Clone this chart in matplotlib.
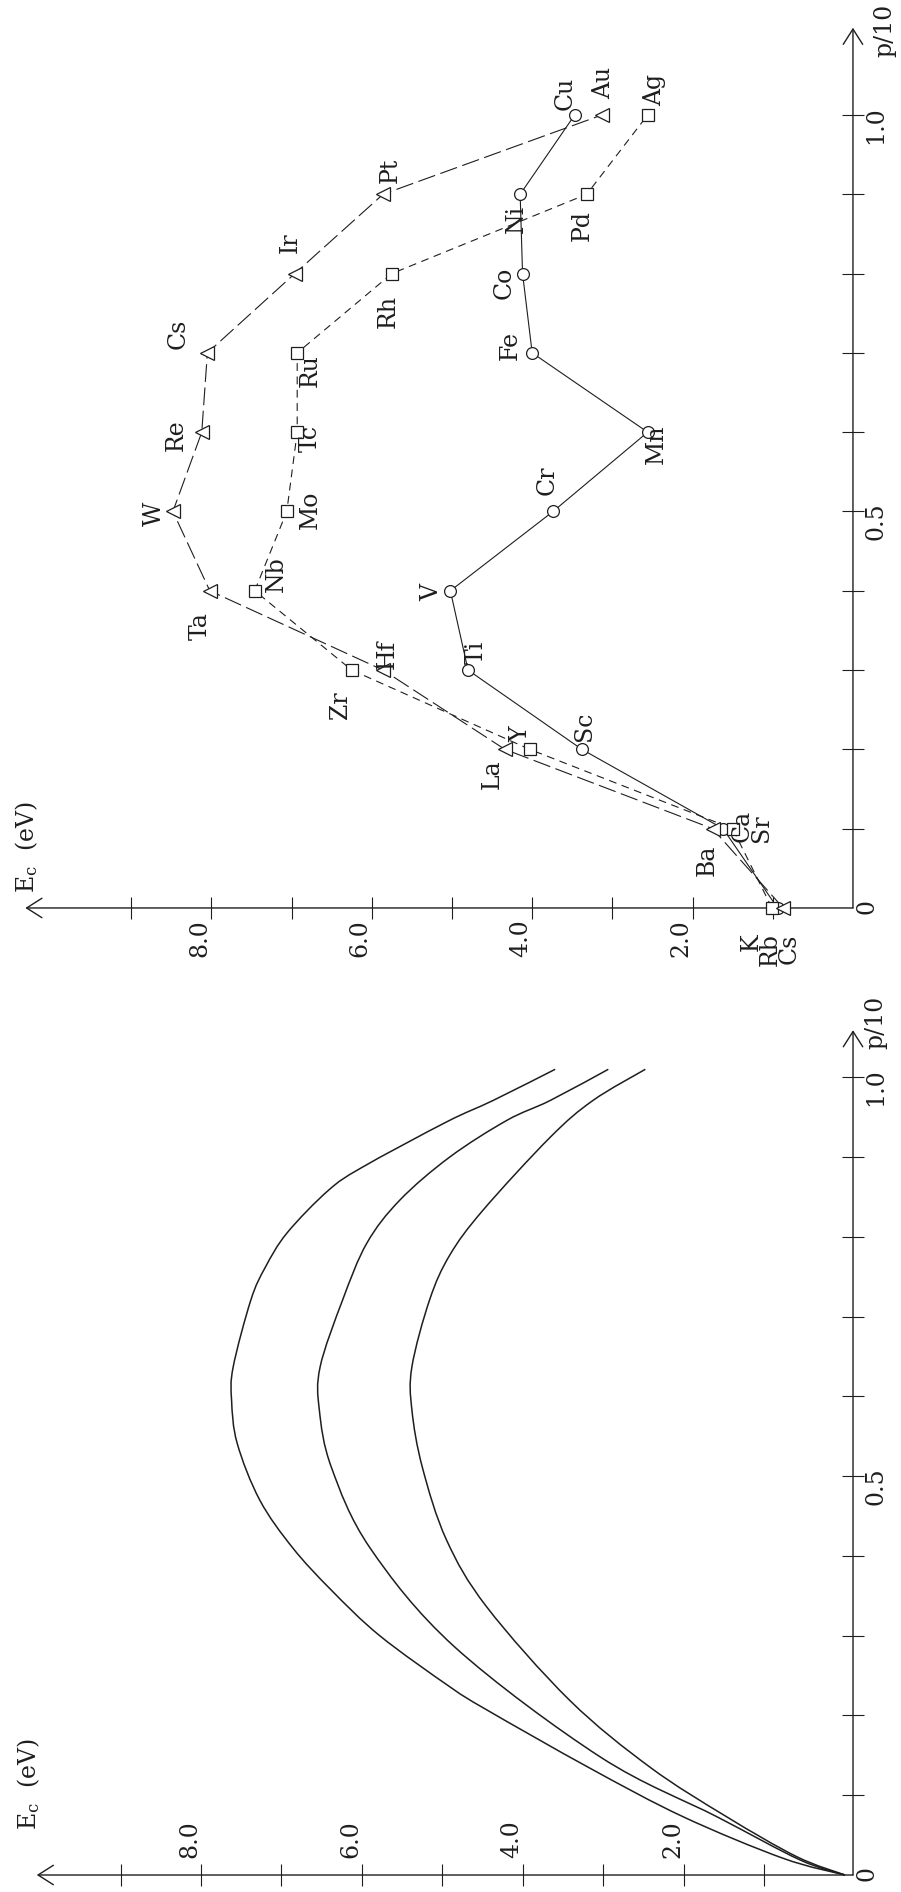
import matplotlib
matplotlib.use("Agg")
import matplotlib.pyplot as plt
from matplotlib.path import Path
from matplotlib.patches import PathPatch
from matplotlib.ticker import FixedLocator, FixedFormatter

plt.rcParams["font.family"] = ["DejaVu Serif", "DejaVu Sans"]
plt.rcParams["mathtext.fontset"] = "custom"
plt.rcParams["mathtext.rm"] = "DejaVu Serif"
plt.rcParams["mathtext.it"] = "DejaVu Serif"

INK = "#1e1e1e"
FS = 17

# ---------------- cohesive energies of the transition series ----------------
p_fill = [0.0, 0.1, 0.2, 0.3, 0.4, 0.5, 0.6, 0.7, 0.8, 0.9, 1.0]

names_3d = ["K", "Ca", "Sc", "Ti", "V", "Cr", "Mn", "Fe", "Co", "Ni", "Cu"]
ec_3d = [0.94, 1.62, 3.38, 4.80, 5.02, 3.74, 2.56, 4.00, 4.12, 4.15, 3.47]

names_4d = ["Rb", "Sr", "Y", "Zr", "Nb", "Mo", "Tc", "Ru", "Rh", "Pd", "Ag"]
ec_4d = [1.01, 1.50, 4.03, 6.25, 7.46, 7.06, 6.93, 6.93, 5.75, 3.32, 2.56]

names_5d = ["Cs", "Ba", "La", "Hf", "Ta", "W", "Re", "Cs", "Ir", "Pt", "Au"]
ec_5d = [0.87, 1.75, 4.34, 5.86, 8.02, 8.48, 8.12, 8.05, 6.96, 5.86, 3.13]

# ---------------- model curves E_c(p) ----------------
p_curve_a = [0.0, 0.023, 0.073, 0.135, 0.219, 0.336, 0.420, 0.511, 0.583, 0.637,
             0.721, 0.777, 0.833, 0.925, 0.971, 1.01]
ec_curve_a = [0.0, 0.60, 1.47, 2.42, 3.42, 4.45, 4.95, 5.25, 5.38, 5.38,
              5.16, 4.91, 4.50, 3.66, 3.13, 2.48]

p_curve_b = [0.0, 0.019, 0.073, 0.148, 0.286, 0.410, 0.511, 0.583, 0.637, 0.721,
             0.792, 0.846, 0.900, 0.946, 0.971, 1.01]
ec_curve_b = [0.0, 0.56, 1.59, 3.04, 4.85, 5.90, 6.38, 6.53, 6.52, 6.24,
              5.94, 5.53, 4.91, 4.20, 3.66, 2.94]

p_curve_c = [0.0, 0.021, 0.073, 0.134, 0.207, 0.236, 0.300, 0.357, 0.410, 0.470,
             0.541, 0.595, 0.637, 0.721, 0.762, 0.805, 0.858, 0.887, 0.944, 0.971, 1.01]
ec_curve_c = [0.0, 0.77, 2.01, 3.17, 4.45, 4.91, 5.78, 6.38, 6.86, 7.27,
              7.55, 7.62, 7.60, 7.38, 7.20, 6.93, 6.42, 6.00, 4.95, 4.37, 3.60]

ec_ticks = [1, 2, 3, 4, 5, 6, 7, 8, 9]
ec_ticklabels = ["", "2.0", "", "4.0", "", "6.0", "", "8.0", ""]
p_ticks = [0.1, 0.2, 0.3, 0.4, 0.5, 0.6, 0.7, 0.8, 0.9, 1.0]
p_ticklabels = ["", "", "", "", "0.5", "", "", "", "", "1.0"]

# label placement next to each marker, in pixels (right, down);
# None marks elements whose names are typed as one stacked block
offs_3d = [None, None, (3, -23), (8, -18), (-19, 2), (-6, -31),
           (9, 12), (-22, -7), (-18, 9), (-4, 25), (-10, -22)]
offs_4d = [None, None, (-9, -15), (-11, 35), (22, -17), (24, -2),
           (13, 6), (13, 18), (-4, 38), (-4, 31), (7, -25)]
offs_5d = [None, (-5, 32), (-13, 25), (4, -16), (-10, 35), (-19, 2),
           (-26, 3), (-29, -19), (-5, -31), (7, -24), (2, -32)]

fig = plt.figure(figsize=(9.01, 18.92), dpi=100)
H = 1892.0
ax_top = fig.add_axes([0, 1 - 950 / H, 1, 950 / H])
ax_bot = fig.add_axes([0, 0, 1, 932 / H])

ax_top.set_xlim(10.636, -0.599)
ax_top.set_ylim(-0.053, 1.145)
ax_bot.set_xlim(10.497, -0.696)
ax_bot.set_ylim(-0.0213, 1.147)


def draw_frame(ax, origin_ec, ec_tip, p_tip, labels_above):
    for s in ax.spines.values():
        s.set_visible(False)
    ax.patch.set_visible(False)
    ax.spines["bottom"].set_position(("data", 0.0))
    ax.spines["top"].set_position(("data", 0.0))
    ax.spines["right"].set_position(("data", origin_ec))
    arrow = dict(arrowstyle="->,head_length=1.1,head_width=0.7", color=INK,
                 lw=1.0, shrinkA=0, shrinkB=0, mutation_scale=10)
    ax.annotate("", xy=(ec_tip, 0), xytext=(origin_ec, 0), arrowprops=arrow)
    ax.annotate("", xy=(origin_ec, p_tip), xytext=(origin_ec, 0), arrowprops=arrow)

    ax.xaxis.set_major_locator(FixedLocator(ec_ticks))
    ax.xaxis.set_major_formatter(FixedFormatter(ec_ticklabels))
    if labels_above:
        ax.xaxis.tick_top()
    else:
        ax.xaxis.tick_bottom()
    ax.tick_params(axis="x", direction="inout", length=16, width=0.8, color=INK,
                   labelsize=FS, labelcolor=INK, labelrotation=90,
                   pad=(4 if labels_above else 0))
    for lab in ax.get_xticklabels():
        lab.set_horizontalalignment("right")

    ax.yaxis.tick_right()
    ax.yaxis.set_major_locator(FixedLocator(p_ticks))
    ax.yaxis.set_major_formatter(FixedFormatter(p_ticklabels))
    ax.yaxis.set_minor_locator(FixedLocator([0.0]))
    ax.yaxis.set_minor_formatter(FixedFormatter(["0"]))
    ax.tick_params(axis="y", which="major", direction="inout", length=16, width=0.8,
                   color=INK, labelsize=FS, labelcolor=INK, labelrotation=90, pad=0)
    ax.tick_params(axis="y", which="minor", length=0, labelsize=FS, labelcolor=INK,
                   labelrotation=90, pad=2)


def smooth_path(xs, ys):
    """Cubic Bezier path passing through every given point."""
    pts = list(zip(xs, ys))
    verts = [pts[0]]
    codes = [Path.MOVETO]
    n = len(pts)
    for i in range(n - 1):
        p0 = pts[i - 1] if i > 0 else pts[i]
        p1 = pts[i]
        p2 = pts[i + 1]
        p3 = pts[i + 2] if i + 2 < n else pts[i + 1]
        c1 = (p1[0] + (p2[0] - p0[0]) / 6.0, p1[1] + (p2[1] - p0[1]) / 6.0)
        c2 = (p2[0] - (p3[0] - p1[0]) / 6.0, p2[1] - (p3[1] - p1[1]) / 6.0)
        verts += [c1, c2, p2]
        codes += [Path.CURVE4] * 3
    return Path(verts, codes)


draw_frame(ax_top, 0.0, 10.32, 1.11, labels_above=False)
draw_frame(ax_bot, -0.1, 10.04, 1.059, labels_above=True)

# axis titles
ax_top.text(10.30, 0.019, r"E$_\mathrm{c}$  (eV)", rotation=90, ha="center",
            va="bottom", fontsize=FS, color=INK)
ax_top.text(-0.40, 1.14, "p/10", rotation=90, ha="center", va="top",
            fontsize=FS, color=INK)
ax_bot.text(10.14, 0.056, r"E$_\mathrm{c}$  (eV)", rotation=90, ha="center",
            va="bottom", fontsize=FS, color=INK)
ax_bot.text(-0.38, 1.035, "p/10", rotation=90, ha="center", va="bottom",
            fontsize=FS, color=INK)

# element series
series = [
    (ec_3d, names_3d, offs_3d, "o", "-", 8.5),
    (ec_4d, names_4d, offs_4d, "s", (0, (7, 5)), 8.0),
    (ec_5d, names_5d, offs_5d, "<", (0, (16, 5)), 9.5),
]
for ec, names, offs, mk, ls, ms in series:
    ax_top.plot(ec, p_fill, linestyle=ls, color=INK, lw=0.8, zorder=2)
    ax_top.plot(ec, p_fill, linestyle="none", marker=mk, ms=ms, mfc="white",
                mec=INK, mew=0.9, zorder=3)
    for name, e, p, off in zip(names, ec, p_fill, offs):
        if off is None:
            continue
        ax_top.annotate(name, (e, p), xytext=(off[0], -off[1]),
                        textcoords="offset pixels", rotation=90, ha="center",
                        va="center", fontsize=FS, color=INK, zorder=4)

# stacked names for the alkali and alkaline-earth columns
ax_top.annotate("\n".join([names_3d[0], names_4d[0], names_5d[0]]),
                (ec_3d[0], p_fill[0]), xytext=(-7, -42), textcoords="offset pixels",
                rotation=90, ha="center", va="center", multialignment="right",
                linespacing=0.78, fontsize=FS, color=INK, zorder=4)
ax_top.annotate("\n".join([names_3d[1], names_4d[1]]),
                (ec_3d[1], p_fill[1]), xytext=(29, 3), textcoords="offset pixels",
                rotation=90, ha="center", va="center", multialignment="left",
                linespacing=0.8, fontsize=FS, color=INK, zorder=4)

# model curves
for p_c, ec_c in [(p_curve_a, ec_curve_a), (p_curve_b, ec_curve_b), (p_curve_c, ec_curve_c)]:
    ax_bot.add_patch(PathPatch(smooth_path(ec_c, p_c), facecolor="none",
                               edgecolor=INK, lw=1.1))

fig.savefig("out.png", dpi=100, facecolor="white")
